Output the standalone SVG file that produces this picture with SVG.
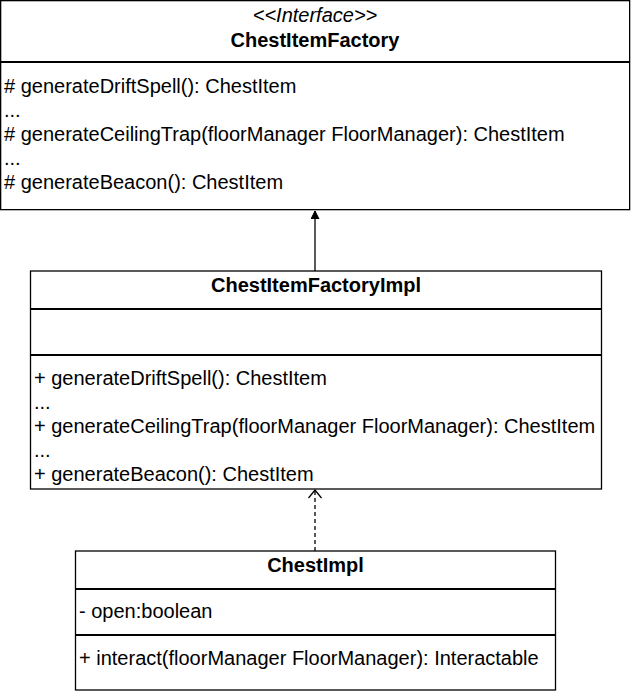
<svg xmlns="http://www.w3.org/2000/svg" width="631" height="691" viewBox="0 0 631 691">
<style>
.box{fill:#ffffff;stroke:#000000;stroke-width:1.3}
.div{stroke:#000000;stroke-width:2;fill:none}
.t{font-family:"Liberation Sans",Arial,sans-serif;font-size:20px;fill:#000000}
.b{font-weight:bold;text-anchor:middle}
.i{font-style:italic;text-anchor:middle}
.edge{stroke:#000000;stroke-width:1.3;fill:none}
</style>
<defs>
<marker id="block" markerWidth="10" markerHeight="10" refX="8" refY="4" orient="auto" markerUnits="userSpaceOnUse">
<path d="M0,0 L8,4 L0,8 Z" fill="#000000" stroke="#000000" stroke-width="1"/>
</marker>
<marker id="open" markerWidth="14" markerHeight="16" refX="9" refY="7" orient="auto" markerUnits="userSpaceOnUse">
<path d="M1,0.5 L9,7 L1,13.5" fill="none" stroke="#000000" stroke-width="1.3"/>
</marker>
</defs>
<g id="connectors">
<path class="edge" d="M315,271 L315,211" marker-end="url(#block)"/>
<path class="edge" d="M315,551 L315,490" stroke-dasharray="4,3" marker-end="url(#open)"/>
</g>
<g id="ChestItemFactory">
<rect class="box" x="0.65" y="0.65" width="629" height="209"/>
<line class="div" x1="0" y1="62" x2="630" y2="62"/>
<text class="t i" x="315" y="22">&lt;&lt;Interface&gt;&gt;</text>
<text class="t b" x="315" y="47">ChestItemFactory</text>
<text class="t" x="4" y="93"># generateDriftSpell(): ChestItem</text>
<text class="t" x="4" y="117">...</text>
<text class="t" x="4" y="141"># generateCeilingTrap(floorManager FloorManager): ChestItem</text>
<text class="t" x="4" y="165">...</text>
<text class="t" x="4" y="189"># generateBeacon(): ChestItem</text>
</g>
<g id="ChestItemFactoryImpl">
<rect class="box" x="30.5" y="271" width="571" height="218"/>
<line class="div" x1="30" y1="309" x2="602" y2="309"/>
<line class="div" x1="30" y1="355" x2="602" y2="355"/>
<text class="t b" x="316" y="292">ChestItemFactoryImpl</text>
<text class="t" x="34" y="385">+ generateDriftSpell(): ChestItem</text>
<text class="t" x="34" y="409">...</text>
<text class="t" x="34" y="433">+ generateCeilingTrap(floorManager FloorManager): ChestItem</text>
<text class="t" x="34" y="457">...</text>
<text class="t" x="34" y="481">+ generateBeacon(): ChestItem</text>
</g>
<g id="ChestImpl">
<rect class="box" x="75.5" y="551" width="480" height="139"/>
<line class="div" x1="75" y1="589" x2="556" y2="589"/>
<line class="div" x1="75" y1="635" x2="556" y2="635"/>
<text class="t b" x="315.5" y="572">ChestImpl</text>
<text class="t" x="79" y="618">- open:boolean</text>
<text class="t" x="79" y="665">+ interact(floorManager FloorManager): Interactable</text>
</g>
</svg>
